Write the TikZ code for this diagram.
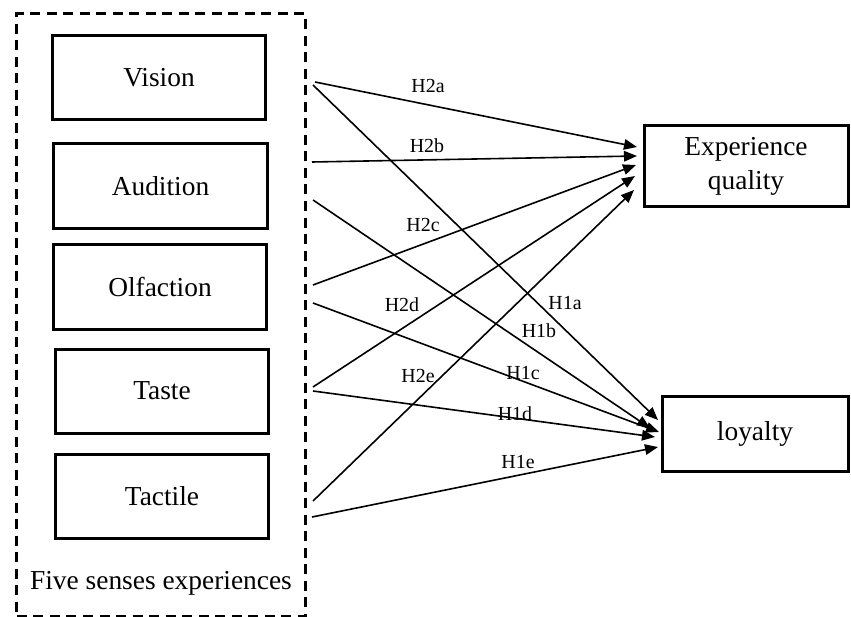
\documentclass[tikz,border=0pt]{standalone}
\usepackage{fontspec}
\setmainfont{Liberation Serif}
\usetikzlibrary{arrows.meta}
\begin{document}
\begin{tikzpicture}[x=1bp,y=-1bp,
  sensebox/.style={draw, line width=3bp, minimum width=213bp, minimum height=84bp, inner sep=0pt, font=\fontsize{27.5}{31}\selectfont},
  outbox/.style={draw, line width=3bp, inner sep=0pt, align=center, font=\fontsize{27.5}{34}\selectfont},
  hyp/.style={font=\fontsize{20}{22}\selectfont, inner sep=0pt},
  conn/.style={line width=1.6bp, -{Triangle[length=13bp,width=10.5bp]}},
  grp/.style={draw, line width=3bp, dash pattern=on 10bp off 6.5bp}
]
\useasboundingbox (0,0) rectangle (851,617);
% group frame
\node[grp, minimum width=288bp, minimum height=602bp, inner sep=0pt] (group) at (161,315) {};
\node[font=\fontsize{27.5}{31}\selectfont, inner sep=0pt] (grplabel) at (161,583) {Five senses experiences};
% sense boxes
\node[sensebox] (vision) at (159,78) {Vision};
\node[sensebox] (audition) at (160.5,186) {Audition};
\node[sensebox] (olfaction) at (160,287) {Olfaction};
\node[sensebox] (taste) at (162,391) {Taste};
\node[sensebox] (tactile) at (162,496) {Tactile};
% outcome boxes
\node[outbox, minimum width=204bp, minimum height=80bp] (eq) at (746,166) {Experience\\quality};
\node[outbox, minimum width=186bp, minimum height=75bp] (loy) at (755,433.5) {loyalty};
% start points
\coordinate (sV2) at (315,82);
\coordinate (sV1) at (313,85);
\coordinate (sA2) at (312,162);
\coordinate (sA1) at (313,200);
\coordinate (sO2) at (313,285);
\coordinate (sO1) at (313,303);
\coordinate (sT2) at (313,387);
\coordinate (sT1) at (313,391);
\coordinate (sK2) at (313,501);
\coordinate (sK1) at (312,517);
% end points
\coordinate (eA) at (637,147);
\coordinate (eB) at (637,156);
\coordinate (eC) at (636,165);
\coordinate (eD) at (635,176);
\coordinate (eE) at (634,190);
\coordinate (lA) at (658,420);
\coordinate (lB) at (650,428);
\coordinate (lC) at (659,432);
\coordinate (lD) at (655,437);
\coordinate (lE) at (658,447);
% connectors H2
\draw[conn] (sV2) -- (eA);
\draw[conn] (sA2) -- (eB);
\draw[conn] (sO2) -- (eC);
\draw[conn] (sT2) -- (eD);
\draw[conn] (sK2) -- (eE);
% connectors H1
\draw[conn] (sV1) -- (lA);
\draw[conn] (sA1) -- (lB);
\draw[conn] (sO1) -- (lC);
\draw[conn] (sT1) -- (lD);
\draw[conn] (sK1) -- (lE);
% labels
\node[hyp] (h2a) at (428,86) {H2a};
\node[hyp] (h2b) at (427,146) {H2b};
\node[hyp] (h2c) at (423,225) {H2c};
\node[hyp] (h2d) at (402,305) {H2d};
\node[hyp] (h2e) at (418,376) {H2e};
\node[hyp] (h1a) at (565,303) {H1a};
\node[hyp] (h1b) at (539,331) {H1b};
\node[hyp] (h1c) at (523,373) {H1c};
\node[hyp] (h1d) at (515,414) {H1d};
\node[hyp] (h1e) at (518,462) {H1e};
\end{tikzpicture}
\end{document}
